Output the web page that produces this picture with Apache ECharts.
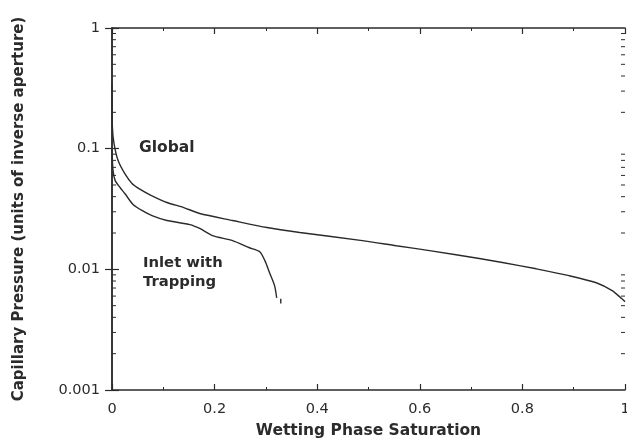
<!DOCTYPE html>
<html>
<head>
<meta charset="utf-8">
<script src="https://cdn.jsdelivr.net/npm/echarts@6/dist/echarts.min.js"></script>
<style>
  html, body { margin: 0; padding: 0; background: #fff; }
  #chart { width: 627px; height: 440px; }
</style>
</head>
<body>
<div id="chart"></div>
<script>
// Global drainage curve (saturation, capillary pressure)
const globalSat = [0, 0.0008, 0.004, 0.0117, 0.025, 0.039, 0.055, 0.074, 0.107, 0.140, 0.171, 0.235, 0.302, 0.366, 0.488, 0.554, 0.619, 0.716, 0.761, 0.827, 0.891, 0.944, 0.975, 0.994, 1.0]
const globalPc = [0.34, 0.15, 0.11, 0.080, 0.062, 0.0515, 0.046, 0.0415, 0.0358, 0.0325, 0.0290, 0.0254, 0.0222, 0.0202, 0.0173, 0.0157, 0.0143, 0.0123, 0.0114, 0.0101, 0.00886, 0.00774, 0.00665, 0.0057, 0.0054]

// Inlet with trapping curve (null = gap before the small trailing mark)
const inletSat = [0, 0.002, 0.006, 0.0156, 0.025, 0.041, 0.06, 0.078, 0.107, 0.152, 0.171, 0.196, 0.235, 0.268, 0.288, 0.298, 0.307, 0.317, 0.321, null, 0.329, 0.329]
const inletPc = [0.097, 0.066, 0.0546, 0.0477, 0.0425, 0.0345, 0.0305, 0.0279, 0.0254, 0.0235, 0.0218, 0.0190, 0.0173, 0.0151, 0.0140, 0.0118, 0.0094, 0.0073, 0.0058, null, 0.0057, 0.0052]

// log minor tick values on the pressure axis
const minorTickVals = [
  0.002, 0.003, 0.004, 0.005, 0.006, 0.007, 0.008, 0.009,
  0.02, 0.03, 0.04, 0.05, 0.06, 0.07, 0.08, 0.09,
  0.2, 0.3, 0.4, 0.5, 0.6, 0.7, 0.8, 0.9
]

const INK = '#2b2b2b'
const FONT = '"DejaVu Sans", Verdana, sans-serif'

const pairs = (xs, ys) => xs.map((x, i) => (x === null ? [null, null] : [x, ys[i]]))

const chart = echarts.init(document.getElementById('chart'), null, { renderer: 'canvas' })

const xAxisBase = {
  type: 'value',
  min: 0,
  max: 1,
  interval: 0.2,
  splitLine: { show: false },
  axisLine: { lineStyle: { color: INK, width: 1.5 } },
  axisTick: { inside: true, length: 6, lineStyle: { color: INK, width: 1.2 } },
  minorTick: { show: true, splitNumber: 2, length: 3, lineStyle: { color: INK, width: 1 } },
  minorSplitLine: { show: false }
}

const yAxisBase = {
  type: 'log',
  logBase: 10,
  min: 0.001,
  max: 1,
  splitLine: { show: false },
  axisLine: { lineStyle: { color: INK, width: 1.5 } },
  axisTick: { inside: true, length: 7, lineStyle: { color: INK, width: 1.2 } }
}

chart.setOption({
  backgroundColor: '#fff',
  animation: false,
  grid: { left: 112, right: 2, top: 28, bottom: 50, outerBoundsMode: 'none', containLabel: false },
  xAxis: [
    {
      ...xAxisBase,
      position: 'bottom',
      name: 'Wetting Phase Saturation',
      nameLocation: 'middle',
      nameGap: 33,
      nameTextStyle: { fontFamily: FONT, fontSize: 15.5, fontWeight: 'bold', color: INK },
      axisLabel: {
        fontFamily: FONT, fontSize: 14.5, color: INK, margin: 12,
        formatter: v => String(Math.round(v * 10) / 10)
      }
    },
    { ...xAxisBase, position: 'top', axisLabel: { show: false } }
  ],
  yAxis: [
    {
      ...yAxisBase,
      position: 'left',
      name: 'Capillary Pressure (units of inverse aperture)',
      nameLocation: 'middle',
      nameRotate: 90,
      nameGap: 85,
      nameTextStyle: { fontFamily: FONT, fontSize: 15, fontWeight: 'bold', color: INK },
      axisLabel: {
        fontFamily: FONT, fontSize: 14.5, color: INK, margin: 12,
        formatter: v => String(v)
      }
    },
    { ...yAxisBase, position: 'right', axisLabel: { show: false } }
  ],
  graphic: [
    { type: 'text', left: 139, top: 140, style: { text: 'Global', font: 'bold 15.5px "DejaVu Sans", Verdana, sans-serif', fill: INK } },
    { type: 'text', left: 143, top: 254, style: { text: 'Inlet with\nTrapping', font: 'bold 14.8px "DejaVu Sans", Verdana, sans-serif', fill: INK, lineHeight: 19 } }
  ],
  series: [
    {
      name: 'Global',
      type: 'line',
      data: pairs(globalSat, globalPc),
      showSymbol: false,
      smooth: 0.25,
      lineStyle: { color: INK, width: 1.4 }
    },
    {
      name: 'Inlet with Trapping',
      type: 'line',
      data: pairs(inletSat, inletPc),
      showSymbol: false,
      connectNulls: false,
      smooth: 0.25,
      lineStyle: { color: INK, width: 1.4 }
    },
    {
      // minor log ticks on left and right frame
      type: 'custom',
      silent: true,
      clip: false,
      data: minorTickVals.map(v => [0, v]),
      renderItem(params, api) {
        const v = api.value(1)
        const l = api.coord([0, v])
        const r = api.coord([1, v])
        const style = { stroke: INK, lineWidth: 1 }
        return {
          type: 'group',
          children: [
            { type: 'line', shape: { x1: l[0], y1: l[1], x2: l[0] + 4, y2: l[1] }, style },
            { type: 'line', shape: { x1: r[0], y1: r[1], x2: r[0] - 4, y2: r[1] }, style }
          ]
        }
      }
    }
  ]
})
</script>
</body>
</html>
